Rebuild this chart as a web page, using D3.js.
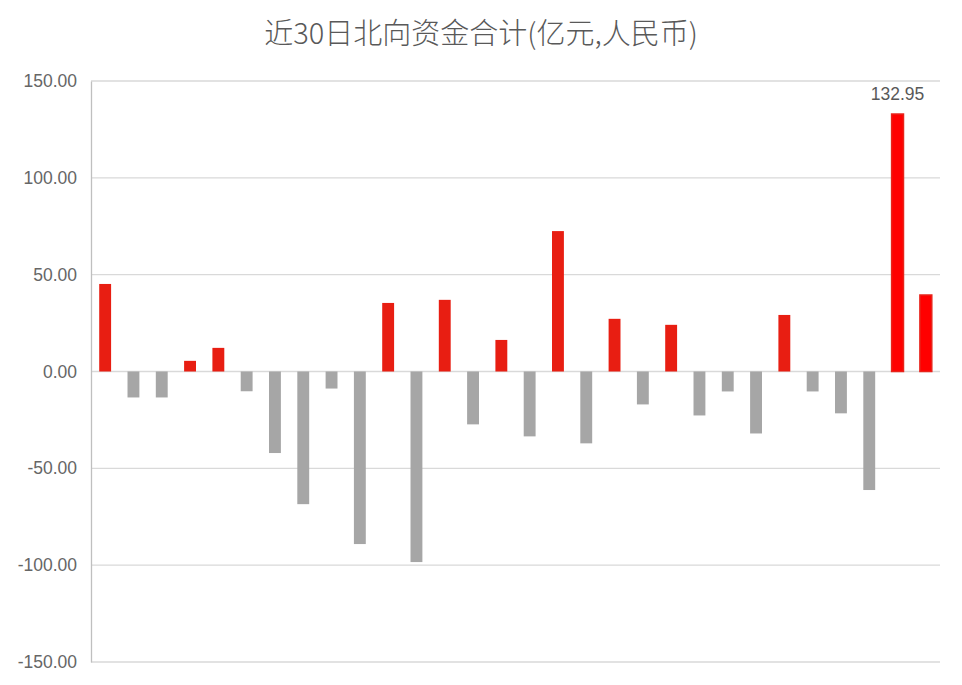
<!DOCTYPE html>
<html>
<head>
<meta charset="utf-8">
<script src="https://cdn.jsdelivr.net/npm/d3@7"></script>
<style>
  body { margin: 0; background: #fff; }
  svg { display: block; }
</style>
</head>
<body>
<div id="chart"></div>
<script>
// 近30日北向资金合计 (亿元)
const days = d3.range(1, 31).map(d => 'D' + d);
const flows = [
  45.2, -13.4, -13.4, 5.5, 12.2, -10.2, -42.1, -68.5, -8.8, -89.1,
  35.4, -98.4, 37.0, -27.3, 16.3, -33.5, 72.5, -37.1, 27.2, -17.0,
  24.1, -22.7, -10.3, -32.0, 29.2, -10.3, -21.6, -61.2, 132.95, 39.5
];
const yTicks = [-150, -100, -50, 0, 50, 100, 150];
const highlighted = [28, 29]; // last two days drawn brighter
const labelled = [28];

const W = 962, H = 685;
const MARGIN = {TOP: 81, BOTTOM: 23, LEFT: 91, RIGHT: 22};
const innerW = W - MARGIN.LEFT - MARGIN.RIGHT;
const innerH = H - MARGIN.TOP - MARGIN.BOTTOM;

const svg = d3.select('#chart').append('svg')
    .attr('width', W)
    .attr('height', H);

svg.append('text')
    .attr('x', W / 2)
    .attr('y', 44)
    .attr('text-anchor', 'middle')
    .attr('font-family', '"Noto Sans CJK SC", sans-serif')
    .attr('font-size', 29)
    .attr('font-weight', 300)
    .attr('fill', '#595959')
    .text('近30日北向资金合计(亿元,人民币)');

const g = svg.append('g')
    .attr('transform', `translate(${MARGIN.LEFT}, ${MARGIN.TOP})`);

const x = d3.scaleBand()
    .domain(days)
    .range([0, innerW])
    .paddingInner(0.58)
    .paddingOuter(0.29);

const y = d3.scaleLinear()
    .domain([-150, 150])
    .range([innerH, 0]);

// gridlines
g.append('g')
    .selectAll('line')
    .data(yTicks)
    .join('line')
        .attr('x1', 0)
        .attr('x2', innerW)
        .attr('y1', d => y(d))
        .attr('y2', d => y(d))
        .attr('stroke', '#d9d9d9')
        .attr('stroke-width', 1.3);

// y axis
const yAxis = g.append('g')
    .call(d3.axisLeft(y).tickValues(yTicks).tickSize(0).tickPadding(14)
        .tickFormat(d3.format('.2f')));
yAxis.select('.domain').attr('stroke', '#bfbfbf').attr('stroke-width', 1.3);
yAxis.selectAll('text')
    .attr('font-family', '"Liberation Sans", Arial, sans-serif')
    .attr('font-size', 17.5)
    .attr('fill', '#666666')
    .text(d => d3.format('.2f')(d).replace('−', '-'));

// bars
g.append('g')
    .selectAll('rect')
    .data(flows)
    .join('rect')
        .attr('x', (d, i) => x(days[i]))
        .attr('width', x.bandwidth())
        .attr('y', d => y(Math.max(0, d)))
        .attr('height', d => Math.abs(y(d) - y(0)))
        .attr('fill', (d, i) => d < 0 ? '#a6a6a6' : highlighted.includes(i) ? '#ff0000' : '#e81e12')
        .attr('stroke', (d, i) => highlighted.includes(i) ? '#e8231a' : 'none')
        .attr('stroke-width', 1.5);

// data label
g.append('g')
    .selectAll('text')
    .data(labelled)
    .join('text')
        .attr('x', i => x(days[i]) + x.bandwidth() / 2)
        .attr('y', i => y(flows[i]) - 14)
        .attr('text-anchor', 'middle')
        .attr('font-family', '"Liberation Sans", Arial, sans-serif')
        .attr('font-size', 17.5)
        .attr('fill', '#595959')
        .text(i => d3.format('.2f')(flows[i]));
</script>
</body>
</html>
